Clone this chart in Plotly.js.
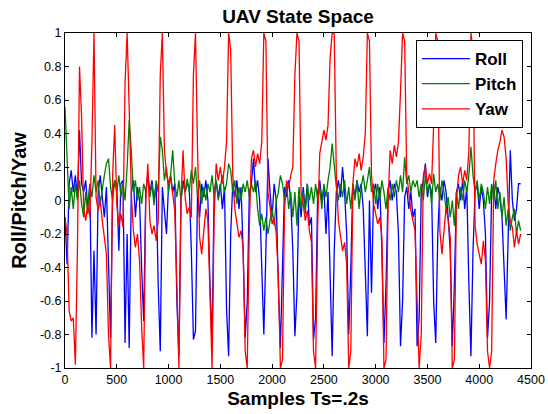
<!DOCTYPE html>
<html>
<head>
<meta charset="utf-8">
<script src="https://cdn.plot.ly/plotly-3.0.1.min.js"></script>
<style>html,body{margin:0;padding:0;background:#fff;}#chart{width:548px;height:414px;}</style>
</head>
<body>
<div id="chart"></div>
<script>
const SAMPLE_STEP = 20;

const rollValues = [
  -0.1,-0.38,0.1,0.18,0.05,0.15,0.02,0.42,0.1,0.05,
  0.12,-0.05,0.1,-0.82,-0.3,-0.8,0.05,0.15,0.02,-0.1,
  0.08,-0.35,-0.82,0.05,0.12,0.08,-0.3,0.1,0.12,-0.85,
  -0.2,-0.88,0.05,0.12,-0.1,0.08,0.0,-0.4,-0.72,0.05,
  0.15,0.05,0.12,0.0,0.1,-0.5,-0.9,0.08,-0.05,-0.2,
  0.1,0.15,0.05,0.1,-0.6,-0.93,0.0,0.12,0.05,0.1,
  0.08,-0.3,-0.83,-0.78,0.05,-0.1,0.1,0.02,0.12,0.0,
  -0.5,-0.85,0.05,0.12,0.02,0.1,-0.05,0.08,-0.65,-0.93,
  -0.2,0.1,0.02,0.12,-0.05,0.08,-0.3,-0.82,-0.6,0.05,
  0.1,0.25,0.05,0.12,0.0,-0.4,-0.8,-0.3,0.25,0.05,
  -0.1,0.1,0.0,-0.5,-0.88,-0.4,0.08,0.02,0.12,0.0,
  -0.3,-0.81,-0.55,0.05,-0.1,0.08,-0.05,0.1,-0.15,-0.1,
  -0.83,-0.7,0.05,0.12,0.0,0.08,-0.2,0.05,-0.5,-0.93,
  -0.3,0.05,0.12,0.02,0.2,0.05,-0.2,-0.8,-0.4,0.1,
  0.02,0.12,0.05,0.1,-0.05,-0.5,-0.81,0.0,-0.55,0.05,
  0.1,-0.05,0.08,-0.3,-0.85,-0.5,0.05,0.12,0.0,0.1,
  0.05,-0.2,-0.87,-0.6,0.02,0.08,-0.05,0.05,-0.1,-0.05,
  -0.87,-0.7,0.05,0.12,0.22,0.02,0.1,0.05,-0.6,-0.85,
  -0.2,0.08,0.0,0.12,0.05,-0.1,-0.3,-0.87,-0.5,0.05,
  0.1,0.0,0.12,-0.05,0.08,-0.5,-0.93,-0.3,0.05,0.1,
  -0.05,0.08,0.0,-0.2,-0.82,-0.6,0.05,0.1,-0.05,0.08,
  0.02,-0.1,-0.4,-0.71,-0.2,0.3,0.0,-0.12,-0.05,0.1,0.1
];

const pitchValues = [
  0.56,0.22,-0.05,0.08,-0.05,0.1,0.0,0.12,-0.02,-0.1,
  0.05,-0.08,0.1,0.02,0.15,0.05,0.12,-0.02,0.08,0.15,
  0.22,0.25,0.08,0.0,0.12,0.05,0.15,0.02,0.1,0.0,
  0.2,0.48,0.3,0.05,0.12,0.0,0.08,-0.02,0.1,0.05,
  0.15,0.02,0.1,-0.03,0.12,0.05,0.38,0.3,0.12,0.2,
  0.05,0.15,0.3,0.1,0.02,0.12,0.0,0.1,0.05,0.13,
  0.05,0.18,0.1,0.2,0.02,0.12,-0.02,0.08,0.0,0.1,
  0.05,0.15,0.02,0.12,0.0,0.08,0.15,0.05,0.1,0.22,
  0.18,0.05,0.12,-0.02,0.08,0.0,0.1,0.05,0.12,0.02,
  0.1,0.05,0.12,-0.05,-0.15,-0.08,-0.18,-0.1,-0.2,-0.12,
  -0.05,-0.15,0.0,0.05,0.15,0.1,0.0,0.1,-0.05,0.05,
  -0.1,0.05,-0.15,0.08,-0.05,0.05,-0.08,0.1,0.0,0.08,
  -0.02,0.1,0.0,0.08,-0.05,0.1,0.02,0.12,0.2,0.34,
  0.2,0.08,0.0,0.1,0.02,0.12,-0.02,0.08,-0.05,0.1,
  0.0,0.12,-0.05,0.08,0.15,0.05,0.12,0.2,0.05,0.1,
  -0.02,0.1,0.0,0.12,0.05,-0.05,0.08,0.0,0.1,0.02,
  0.12,0.05,0.15,0.05,0.26,0.1,0.15,0.05,0.12,0.08,
  0.12,0.02,0.1,0.0,0.15,0.05,0.1,-0.02,0.16,0.05,
  0.1,0.0,0.12,0.05,-0.05,0.02,-0.1,0.0,-0.15,0.05,
  -0.05,0.08,0.0,0.12,0.05,0.15,0.32,0.15,0.05,0.12,
  0.0,0.1,0.05,-0.05,0.08,-0.02,0.1,0.0,0.12,-0.05,
  0.05,-0.1,0.02,-0.15,-0.05,-0.18,-0.1,-0.05,-0.2,-0.12,-0.18
];

const yawValues = [
  -0.1,-0.2,-0.66,-0.72,-0.7,-0.98,-0.3,0.8,0.5,-0.05,
  -0.12,-0.02,-0.1,0.35,1.0,0.02,-0.06,0.0,-0.12,-0.22,
  -0.32,-0.8,-1.0,0.15,0.45,-0.02,-0.15,-0.08,-0.16,0.7,
  1.0,0.55,0.05,-0.18,-0.28,-0.2,-0.36,-0.75,-1.0,0.0,
  0.22,-0.12,-0.2,-0.15,-0.24,-0.12,0.75,1.0,0.3,0.16,
  0.1,0.14,0.02,-0.06,-0.5,-1.0,0.0,0.3,0.02,-0.08,
  -0.04,-0.1,0.75,1.0,0.3,-0.22,-0.32,-0.2,-0.05,-0.12,
  -0.6,-1.0,-0.1,0.22,0.12,0.2,0.1,0.2,0.35,1.0,
  0.9,0.15,-0.05,-0.15,-0.22,-0.18,-0.28,-0.9,-1.0,-0.15,
  0.25,0.3,0.2,0.28,0.22,0.35,1.0,0.95,0.05,-0.04,
  -0.14,-0.1,-0.2,-0.45,-1.0,-0.95,-0.05,0.12,0.08,0.15,
  0.2,0.75,1.0,0.95,0.05,-0.02,-0.12,-0.06,-0.18,-0.25,
  -0.9,-1.0,-0.15,0.28,0.35,0.42,0.36,0.45,0.85,1.0,
  1.0,0.15,-0.12,-0.22,-0.3,-0.25,-0.38,-1.0,-0.9,0.1,
  0.25,0.2,0.28,0.18,0.26,0.4,1.0,0.95,0.15,-0.02,
  -0.08,-0.14,-0.1,-0.22,-1.0,-0.95,0.0,0.3,0.22,0.33,
  0.26,0.35,0.65,1.0,0.95,0.15,0.05,-0.06,-0.12,-0.18,
  -0.6,-1.0,-0.8,0.15,0.2,0.1,0.16,0.1,0.45,1.0,
  0.95,-0.18,-0.32,-0.15,-0.04,-0.12,-0.22,-1.0,-0.95,0.0,
  0.15,0.2,0.1,0.18,0.12,0.3,1.0,0.9,-0.15,-0.26,
  -0.32,-0.38,-0.24,-0.36,-0.9,-1.0,-0.9,0.12,0.22,0.3,
  0.35,0.42,0.38,0.25,-0.02,-0.12,-0.16,-0.28,-0.18,-0.26,-0.2
];

const seriesNames = ['Roll', 'Pitch', 'Yaw'];
const seriesColors = ['#0000ff', '#008000', '#ff0000'];
const xTickVals = [0, 500, 1000, 1500, 2000, 2500, 3000, 3500, 4000, 4500];
const xTickText = ['0', '500', '1000', '1500', '2000', '2500', '3000', '3500', '4000', '4500'];
const yTickVals = [-1, -0.8, -0.6, -0.4, -0.2, 0, 0.2, 0.4, 0.6, 0.8, 1];
const yTickText = ['-1', '-0.8', '-0.6', '-0.4', '-0.2', '0', '0.2', '0.4', '0.6', '0.8', '1'];

const FONT = 'Liberation Sans, Arial, Helvetica, sans-serif';
const allValues = [rollValues, pitchValues, yawValues];

const traces = allValues.map((vals, k) => ({
  type: 'scatter',
  mode: 'lines',
  name: seriesNames[k],
  y: vals,
  x0: 0,
  dx: SAMPLE_STEP,
  line: {color: seriesColors[k], width: 1.3},
  hoverinfo: 'skip'
}));

const axisCommon = {
  showline: true, linecolor: '#000', linewidth: 1, mirror: 'ticks',
  ticks: 'inside', ticklen: 4, tickcolor: '#000', tickwidth: 1,
  showgrid: false, zeroline: false,
  tickfont: {family: FONT, size: 12.5, color: '#000'}
};

const layout = {
  width: 548, height: 414,
  margin: {l: 65, r: 17, t: 33, b: 46, pad: 0},
  paper_bgcolor: '#fff', plot_bgcolor: '#fff',
  hovermode: false,
  title: {
    text: 'UAV State Space',
    font: {family: FONT, size: 19, weight: 'bold', color: '#000'},
    x: 0.5, xref: 'paper', xanchor: 'center',
    y: 1 - 16.5 / 414, yref: 'container', yanchor: 'middle'
  },
  xaxis: Object.assign({}, axisCommon, {
    range: [0, 4500], tickvals: xTickVals, ticktext: xTickText,
    title: {text: 'Samples Ts=.2s', standoff: 5,
            font: {family: FONT, size: 19, weight: 'bold', color: '#000'}}
  }),
  yaxis: Object.assign({}, axisCommon, {
    range: [-1, 1], tickvals: yTickVals, ticktext: yTickText,
    title: {text: 'Roll/Pitch/Yaw', standoff: 7,
            font: {family: FONT, size: 20, weight: 'bold', color: '#000'}}
  }),
  showlegend: true,
  legend: {
    x: 0.753, y: 0.979, xanchor: 'left', yanchor: 'top',
    xref: 'paper', yref: 'paper',
    bgcolor: '#fff', bordercolor: '#000', borderwidth: 1,
    font: {family: FONT, size: 17, weight: 'bold', color: '#000'},
    itemwidth: 48, traceorder: 'normal'
  }
};

Plotly.newPlot('chart', traces, layout, {staticPlot: true, displayModeBar: false});
</script>
</body>
</html>
